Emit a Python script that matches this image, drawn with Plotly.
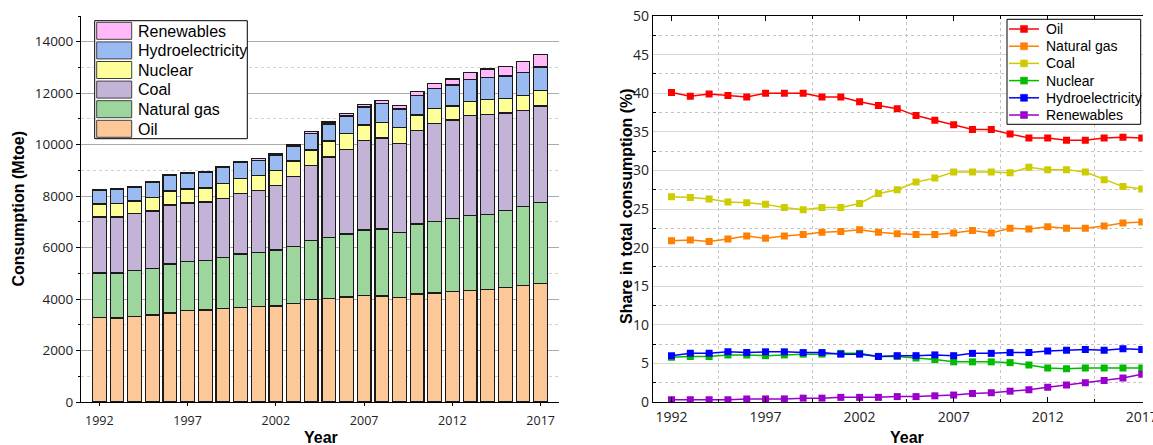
import plotly.graph_objects as go

# ---------------- data ----------------
years = list(range(1992, 2018))

# Left chart: consumption by source (Mtoe)
oil = [3287, 3263, 3326, 3380, 3458, 3547, 3574, 3625, 3675, 3702, 3729, 3831, 3974,
       4025, 4079, 4142, 4118, 4052, 4196, 4235, 4285, 4336, 4375, 4452, 4530, 4596]
natural_gas = [1725, 1749, 1775, 1811, 1903, 1904, 1927, 1993, 2073, 2110, 2176, 2214, 2304,
               2370, 2448, 2540, 2603, 2537, 2719, 2770, 2848, 2902, 2914, 2980, 3069, 3147]
coal = [2175, 2175, 2214, 2229, 2292, 2280, 2269, 2280, 2356, 2397, 2495, 2708, 2902,
        3123, 3275, 3470, 3535, 3446, 3625, 3807, 3822, 3885, 3887, 3796, 3718, 3757]
nuclear = [505, 513, 494, 517, 545, 544, 544, 583, 583, 595, 598, 610, 610,
           622, 635, 611, 607, 622, 610, 595, 545, 556, 568, 567, 595, 594]
hydro = [517, 548, 528, 594, 594, 606, 606, 622, 610, 596, 598, 583, 634,
         660, 674, 698, 741, 727, 762, 777, 815, 842, 880, 870, 908, 921]
renewables = [30, 32, 36, 38, 40, 42, 45, 48, 52, 55, 60, 65, 75,
              82, 92, 105, 120, 135, 165, 205, 240, 280, 315, 365, 410, 488]

# Right chart: share in total consumption (%)
oil_share = [40.1, 39.6, 39.9, 39.7, 39.5, 40.0, 40.0, 40.0, 39.5, 39.5, 38.9, 38.4, 38.0,
             37.1, 36.5, 35.9, 35.3, 35.3, 34.7, 34.2, 34.2, 33.9, 33.9, 34.2, 34.3, 34.2]
gas_share = [20.9, 21.0, 20.8, 21.1, 21.5, 21.2, 21.5, 21.7, 22.0, 22.1, 22.3, 22.0, 21.8,
             21.7, 21.7, 21.9, 22.2, 21.9, 22.5, 22.4, 22.7, 22.5, 22.5, 22.8, 23.2, 23.3]
coal_share = [26.6, 26.5, 26.3, 25.9, 25.8, 25.6, 25.2, 24.9, 25.2, 25.2, 25.7, 27.0, 27.5,
              28.5, 29.0, 29.8, 29.8, 29.8, 29.7, 30.4, 30.1, 30.1, 29.8, 28.8, 27.9, 27.6]
nuclear_share = [5.8, 5.9, 5.9, 6.1, 6.1, 6.0, 6.1, 6.2, 6.2, 6.3, 6.3, 5.9, 5.9,
                 5.7, 5.5, 5.2, 5.2, 5.2, 5.1, 4.8, 4.4, 4.3, 4.4, 4.4, 4.4, 4.4]
hydro_share = [6.0, 6.3, 6.3, 6.5, 6.4, 6.5, 6.5, 6.4, 6.4, 6.2, 6.2, 5.9, 6.0,
               6.0, 6.1, 6.0, 6.3, 6.3, 6.4, 6.4, 6.6, 6.7, 6.8, 6.7, 6.9, 6.8]
renewables_share = [0.3, 0.3, 0.3, 0.3, 0.4, 0.4, 0.4, 0.5, 0.5, 0.6, 0.6, 0.6, 0.7,
                    0.7, 0.8, 0.9, 1.1, 1.2, 1.4, 1.6, 1.9, 2.2, 2.5, 2.8, 3.1, 3.6]

source_names = ["Oil", "Natural gas", "Coal", "Nuclear", "Hydroelectricity", "Renewables"]
bar_colors = ["#FDC898", "#9DD69C", "#C3B3D7", "#FFFF99", "#99BBF2", "#FFB8F8"]
line_colors = ["#FF0000", "#FF8000", "#CCCC00", "#00BB00", "#0000FF", "#9900CC"]

# ---------------- layout helpers ----------------
W, H = 1153, 445
T, B = 16, 43
PH = H - T - B


def fx(p):
    return p / W


def fy(p):
    return (H - B - p) / PH


fig = go.Figure()

bar_series = [oil, natural_gas, coal, nuclear, hydro, renewables]
for name, vals, col in zip(source_names, bar_series, bar_colors):
    fig.add_trace(go.Bar(
        x=years, y=vals, name=name, width=0.78,
        marker=dict(color=col, line=dict(color="#1a1a1a", width=1.2)),
        xaxis="x", yaxis="y", showlegend=False))

share_series = [oil_share, gas_share, coal_share, nuclear_share, hydro_share, renewables_share]
for name, vals, col in zip(source_names, share_series, line_colors):
    fig.add_trace(go.Scatter(
        x=years, y=vals, name=name, mode="lines+markers",
        line=dict(color=col, width=1.5),
        marker=dict(symbol="square", size=7, color=col),
        xaxis="x2", yaxis="y2", showlegend=False))

tick_font_l = dict(family="Open Sans", size=13.5, color="#222")
tick_font_lx = dict(family="Open Sans", size=12.5, color="#222")
tick_font_r = dict(family="Open Sans", size=14, color="#222")

shapes = []
annotations = []

# Left custom legend (reversed order)
shapes.append(dict(type="rect", xref="paper", yref="paper",
                   x0=fx(94.7), x1=fx(247.3), y0=fy(138.7), y1=fy(20.7),
                   fillcolor="white", line=dict(color="black", width=1)))
for i, (name, col) in enumerate(zip(source_names[::-1], bar_colors[::-1])):
    top = 22.3 + i * 19.6
    shapes.append(dict(type="rect", xref="paper", yref="paper",
                       x0=fx(96.7), x1=fx(131.7), y0=fy(top + 17), y1=fy(top),
                       fillcolor=col, line=dict(color="#404040", width=1)))
    annotations.append(dict(text=name, xref="paper", yref="paper",
                            x=fx(136.2), y=fy(top + 8.8), xanchor="left", yanchor="middle",
                            showarrow=False,
                            font=dict(family="Liberation Sans", size=16, color="black")))

# Right custom legend
shapes.append(dict(type="rect", xref="paper", yref="paper",
                   x0=fx(1007), x1=fx(1140.7), y0=fy(124.3), y1=fy(19.3),
                   fillcolor="white", line=dict(color="black", width=1)))
for i, (name, col) in enumerate(zip(source_names, line_colors)):
    yc = 29 + i * 17.2
    shapes.append(dict(type="line", xref="paper", yref="paper",
                       x0=fx(1009), x1=fx(1039), y0=fy(yc), y1=fy(yc),
                       line=dict(color=col, width=1.5)))
    shapes.append(dict(type="rect", xref="paper", yref="paper",
                       x0=fx(1020.5), x1=fx(1027.5), y0=fy(yc + 3.5), y1=fy(yc - 3.5),
                       fillcolor=col, line=dict(color=col, width=0.5)))
    annotations.append(dict(text=name, xref="paper", yref="paper",
                            x=fx(1043.5), y=fy(yc), xanchor="left", yanchor="middle",
                            showarrow=False,
                            font=dict(family="Liberation Sans", size=14, color="black")))

title_font = dict(family="Liberation Sans", size=16, color="black")
annotations += [
    dict(text="<b>Consumption (Mtoe)</b>", xref="paper", yref="paper",
         x=fx(18), y=fy(208.5), textangle=-90, showarrow=False,
         xanchor="center", yanchor="middle", font=title_font),
    dict(text="<b>Year</b>", xref="paper", yref="paper",
         x=fx(320.5), y=fy(438), showarrow=False,
         xanchor="center", yanchor="middle", font=title_font),
    dict(text="<b>Share in total consumption (%)</b>", xref="paper", yref="paper",
         x=fx(626), y=fy(206), textangle=-90, showarrow=False,
         xanchor="center", yanchor="middle", font=title_font),
    dict(text="<b>Year</b>", xref="paper", yref="paper",
         x=fx(906.7), y=fy(438), showarrow=False,
         xanchor="center", yanchor="middle", font=title_font),
]

fig.update_layout(
    width=W, height=H, autosize=False,
    margin=dict(l=0, r=0, t=T, b=B, pad=0),
    paper_bgcolor="white", plot_bgcolor="white",
    barmode="stack", bargap=0.2,
    showlegend=False,
    shapes=shapes, annotations=annotations,
    xaxis=dict(domain=[fx(81), fx(559)], anchor="y",
               range=[1990.96, 2018.04], tickmode="linear", tick0=1992, dtick=5,
               ticks="outside", ticklen=3, tickcolor="black", tickwidth=1,
               showline=True, linecolor="black", linewidth=1,
               showgrid=False, zeroline=False, tickfont=tick_font_lx,
               automargin=False, ticklabelstandoff=4),
    yaxis=dict(domain=[0, 1], anchor="x",
               range=[0, 15000], tickmode="linear", tick0=0, dtick=2000,
               tickformat="d",
               ticks="outside", ticklen=4, tickcolor="black", tickwidth=1,
               showline=True, linecolor="black", linewidth=1,
               showgrid=True, gridcolor="#ABABAB", gridwidth=1,
               zeroline=False, tickfont=tick_font_l, automargin=False,
               minor=dict(tick0=0, dtick=1000, ticks="outside", ticklen=2.5,
                          tickcolor="black", showgrid=True, gridcolor="#D0D0D0",
                          griddash="dot", gridwidth=1)),
    xaxis2=dict(domain=[fx(652.7), fx(1142.7)], anchor="y2",
                range=[1991.0, 2017.05], tickmode="linear", tick0=1992, dtick=5,
                ticks="inside", ticklen=5, tickcolor="black", tickwidth=1,
                showline=True, linecolor="black", linewidth=1, mirror="ticks",
                showgrid=False, zeroline=False, tickfont=tick_font_r,
                automargin=False, ticklabelstandoff=2, ticklabeloverflow="allow",
                minor=dict(tick0=1994.5, dtick=5, ticks="inside", ticklen=3,
                           tickcolor="black", showgrid=True, gridcolor="#C4C4C4",
                           griddash="dot", gridwidth=1)),
    yaxis2=dict(domain=[0, 1], anchor="x2",
                range=[0, 50], tickmode="linear", tick0=0, dtick=5,
                ticks="", showline=True, linecolor="black", linewidth=1,
                showgrid=True, gridcolor="#D6D6D6", gridwidth=1.3,
                zeroline=False, tickfont=tick_font_r, automargin=False,
                minor=dict(tick0=2.5, dtick=5, ticks="inside", ticklen=3,
                           tickcolor="black", showgrid=True, gridcolor="#C4C4C4",
                           griddash="dot", gridwidth=1)),
)

# remove the default 8px page margin so the figure sits at the window's top-left corner
fig.write_html("out.html",
               config={"displayModeBar": False},
               post_script="document.body.style.margin='0';document.body.style.overflow='hidden';")
